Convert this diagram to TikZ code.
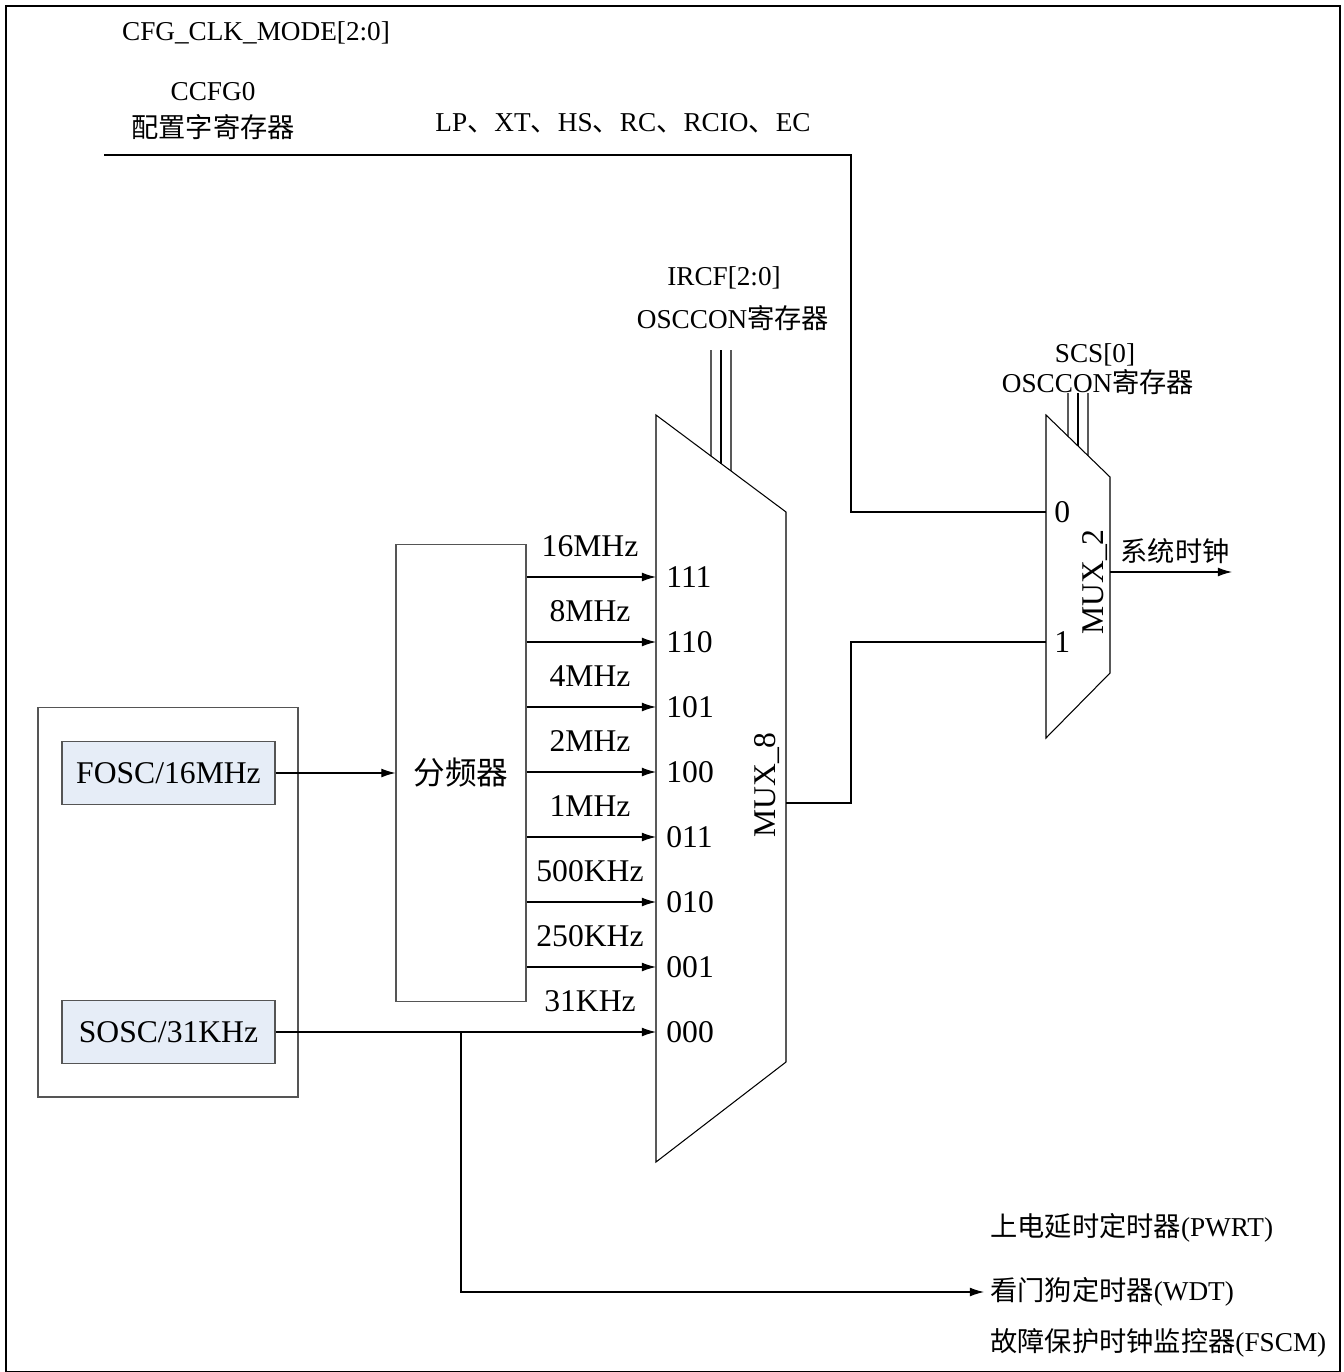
\documentclass[tikz,border=0pt]{standalone}
\usepackage{fontspec}
\setmainfont{Liberation Serif}
\newfontfamily\cjk{Noto Sans CJK SC}
\usetikzlibrary{arrows.meta, positioning, calc}
\definecolor{OscBlue}{HTML}{E6EDF7}
\definecolor{EdgeGray}{HTML}{555555}
\newcommand{\zhtxt}[1]{{\cjk #1}}

\begin{document}
\begin{tikzpicture}[x=0.02cm, y=-0.02cm, line width=0.6pt,
    bigtxt/.style={font=\fontsize{18}{21}\selectfont},
    smalltxt/.style={font=\fontsize{15.5}{18}\selectfont},
    sig/.style={-{Latex[length=8pt,width=5pt]}},
    oscbox/.style={draw=EdgeGray, fill=OscBlue, minimum width=4.26cm, minimum height=1.26cm, inner sep=0pt, bigtxt}]
    \useasboundingbox (0,0) rectangle (1344,1372);
    % Frame
    \draw[line width=0.8pt] (6,6) rectangle (1340,1372);

    % Config word
    \node[smalltxt] (cfgmode) at (256,33) {CFG\_CLK\_MODE[2:0]};
    \node[smalltxt] (ccfg) at (213,92) {CCFG0};
    \node[smalltxt] (ccfgreg) at (213,127) {\zhtxt{配置字寄存器}};
    \node[smalltxt] (modes) at (623,123) {LP\zhtxt{、}XT\zhtxt{、}HS\zhtxt{、}RC\zhtxt{、}RCIO\zhtxt{、}EC};

    % MUX_8
    \coordinate (m8tl) at (656,415);
    \coordinate (m8tr) at (786,512);
    \coordinate (m8br) at (786,1062);
    \coordinate (m8bl) at (656,1162);
    \draw (m8tl) -- (m8tr) -- (m8br) -- (m8bl) -- cycle;
    \node[bigtxt, rotate=90] (mux8) at (767,785) {MUX\_8};
    \node[smalltxt] (ircf) at (724,278) {IRCF[2:0]};
    \node[smalltxt] (ircfreg) at (733,318) {OSCCON\zhtxt{寄存器}};
    \foreach \x [evaluate=\x as \t using (\x-656)/130] in {711,721,731}
        \draw (\x,350) -- ($(m8tl)!\t!(m8tr)$);

    % Oscillators and divider
    \node[draw=EdgeGray, minimum width=5.2cm, minimum height=7.8cm] (oscgrp) at (168,902) {};
    \node[oscbox] (fosc) at (168.5,773) {FOSC/16MHz};
    \node[oscbox] (sosc) at (168.5,1032) {SOSC/31KHz};
    \node[draw=EdgeGray, minimum width=2.6cm, minimum height=9.16cm, bigtxt] (div) at (461,773) {\zhtxt{分频器}};
    \draw[sig] (fosc) -- (div);

    % MUX_8 inputs
    \foreach \code/\freq [count=\i from 0] in {111/16MHz, 110/8MHz, 101/4MHz, 100/2MHz, 011/1MHz, 010/500KHz, 001/250KHz, 000/31KHz} {
        \coordinate (in\code) at (656,577+65*\i);
        \node[bigtxt, anchor=west] (lbl\code) at ($(in\code)+(4,0)$) {\code};
        \node[bigtxt] (frq\code) at ($(in\code)+(-66,-31)$) {\freq};
    }
    \foreach \code in {111,110,101,100,011,010,001}
        \draw[sig] (div.east |- in\code) -- (in\code);
    \draw[sig] (sosc) -- (in000);

    % Branch to peripherals
    \coordinate (tap) at (461,1032);
    \node[smalltxt, anchor=west] (pwrt) at (984,1228) {\zhtxt{上电延时定时器}(PWRT)};
    \node[smalltxt, anchor=west] (wdt) at (984,1292) {\zhtxt{看门狗定时器}(WDT)};
    \node[smalltxt, anchor=west] (fscm) at (984,1343) {\zhtxt{故障保护时钟监控器}(FSCM)};
    \draw[sig] (tap) |- (wdt.west);

    % MUX_2
    \coordinate (m2tl) at (1046,415);
    \coordinate (m2tr) at (1110,477);
    \coordinate (m2br) at (1110,673);
    \coordinate (m2bl) at (1046,738);
    \draw (m2tl) -- (m2tr) -- (m2br) -- (m2bl) -- cycle;
    \node[bigtxt, rotate=90] (mux2) at (1095,582) {MUX\_2};
    \node[smalltxt] (scs) at (1095,355) {SCS[0]};
    \node[smalltxt] (scsreg) at (1098,382) {OSCCON\zhtxt{寄存器}};
    \foreach \x [evaluate=\x as \t using (\x-1046)/64] in {1068,1078,1088}
        \draw (\x,393) -- ($(m2tl)!\t!(m2tr)$);
    \coordinate (sel0) at (1046,512);
    \coordinate (sel1) at (1046,642);
    \node[bigtxt, anchor=west] (lblzero) at ($(sel0)+(2,0)$) {0};
    \node[bigtxt, anchor=west] (lblone) at ($(sel1)+(2,0)$) {1};

    % Paths into MUX_2
    \coordinate (cfgstart) at (104,155);
    \coordinate (cfgturn) at (851,155);
    \draw (cfgstart) -- (cfgturn) |- (sel0);
    \coordinate (m8out) at (786,803);
    \draw (m8out) -- ++(65,0) |- (sel1);

    % System clock
    \coordinate (m2out) at (1110,572);
    \coordinate (sysclk) at (1232,572);
    \draw[sig] (m2out) -- (sysclk);
    \node[smalltxt] (sysclklbl) at (1175,551) {\zhtxt{系统时钟}};
\end{tikzpicture}
\end{document}
